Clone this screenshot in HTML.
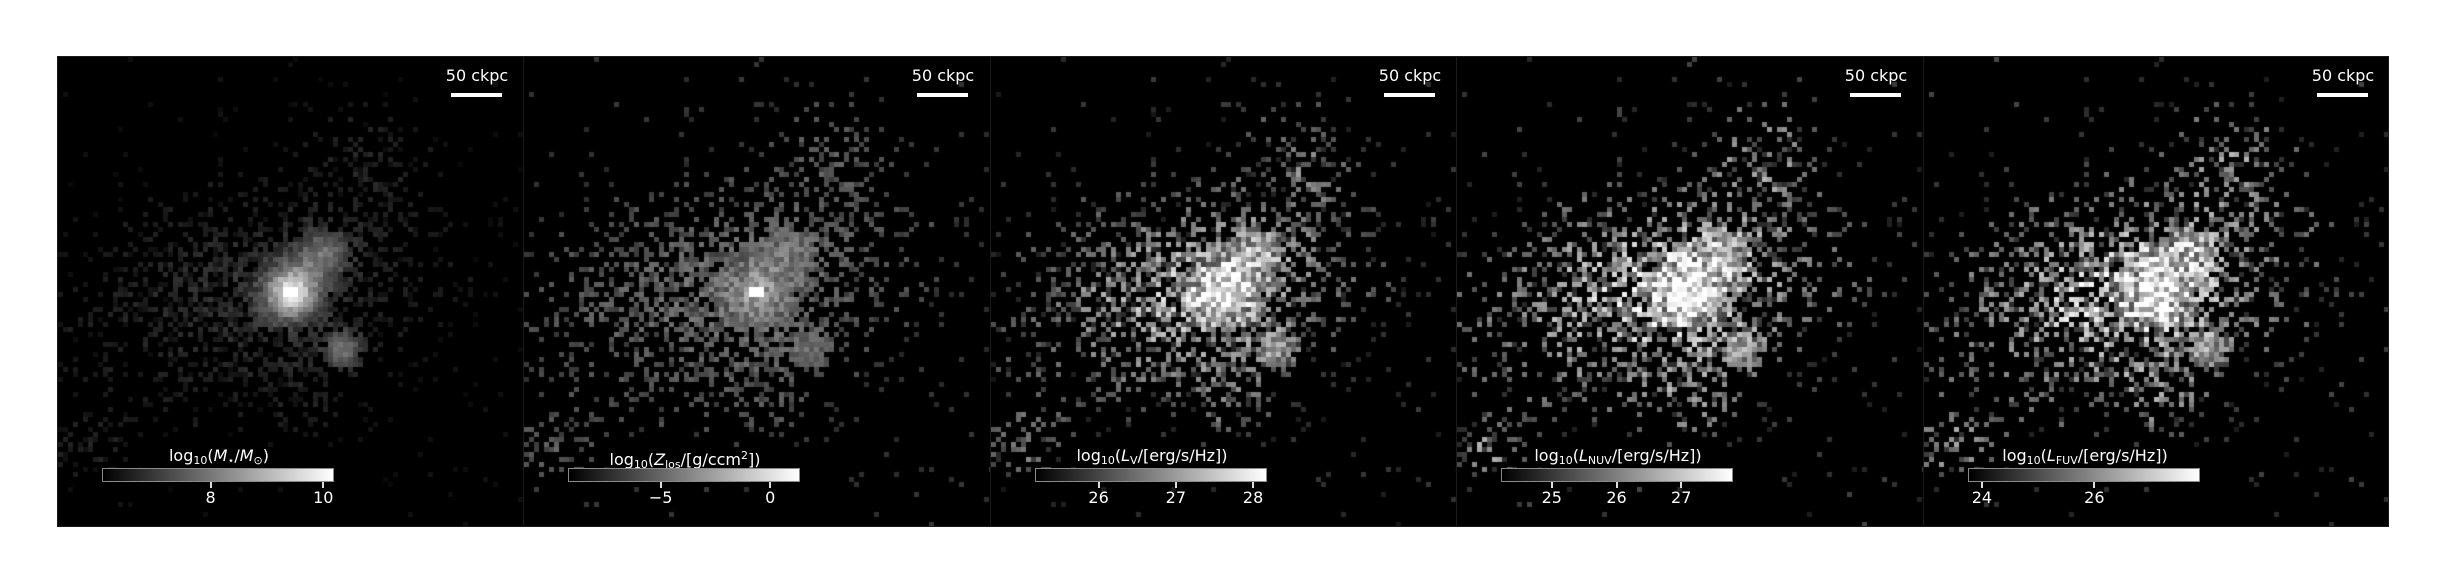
<!DOCTYPE html>
<html><head><meta charset="utf-8">
<style>
html,body{margin:0;padding:0;background:#fff;}
#fig{position:relative;width:2444px;height:584px;background:#fff;overflow:hidden;font-family:"DejaVu Sans","Liberation Sans",sans-serif;}
.panel{position:absolute;top:56px;width:468px;height:471px;background:#000;box-sizing:border-box;border:1px solid #1a1a1a;overflow:hidden;}
.panel canvas{position:absolute;left:0;top:0;}
.sb-text{position:absolute;top:10px;left:385px;width:68px;text-align:center;color:#fff;font-size:16px;line-height:18px;white-space:nowrap;}
.sb-bar{position:absolute;top:36px;left:393px;width:51px;height:4px;background:#fff;}
.cb{position:absolute;top:411px;left:44px;width:232px;height:14px;box-sizing:border-box;border:1px solid #8a8a8a;background:linear-gradient(to right,#000,#fff);}
.cb-title{position:absolute;top:390px;left:0;width:322px;text-align:center;color:#fff;font-size:16px;line-height:18px;white-space:nowrap;}
.cb-title sub{font-size:11px;vertical-align:-3px;}
.cb-title sup{font-size:11px;vertical-align:6px;}
.tick{position:absolute;top:425px;width:2px;height:6px;background:#ddd;}
.tlabel{position:absolute;top:432px;width:60px;text-align:center;color:#fff;font-size:16px;line-height:18px;}
</style></head>
<body>
<div id="fig"></div>
<script>
const panelLefts = [57, 523, 990, 1456, 1923];
const panelTitles = [
 'log<sub>10</sub>(<i>M</i><sub>⋆</sub>/<i>M</i><sub>⊙</sub>)',
 'log<sub>10</sub>(<i>Z</i><sub>los</sub>/[g/ccm<sup>2</sup>])',
 'log<sub>10</sub>(<i>L</i><sub>V</sub>/[erg/s/Hz])',
 'log<sub>10</sub>(<i>L</i><sub>NUV</sub>/[erg/s/Hz])',
 'log<sub>10</sub>(<i>L</i><sub>FUV</sub>/[erg/s/Hz])'
];
const panelNames = ['stellar-mass','metal-column','v-band-luminosity','nuv-luminosity','fuv-luminosity'];
const vmins = [6.09, -9.18, 25.19, 24.23, 23.77];
const vmaxs = [10.19, 1.36, 28.18, 27.8, 27.88];
const tickValues = [[8,10],[-5,0],[26,27,28],[25,26,27],[24,26]];
const tickLabels = [['8','10'],['−5','0'],['26','27','28'],['25','26','27'],['24','26']];

function hash(i,j,k){
  let h = (i*374761393 + j*668265263 + k*2147483647) | 0;
  h = (h ^ (h >>> 13)) * 1274126177 | 0;
  h = h ^ (h >>> 16);
  return ((h >>> 0) % 100000) / 100000;
}
function g(u,v,cx,cy,s){const d=(u-cx)*(u-cx)+(v-cy)*(v-cy);return Math.exp(-d/(2*s*s));}
function envelope(u,v){
  const du=u-0.43, dv=v-0.5, c=Math.cos(-0.22), s=Math.sin(-0.22);
  const a=du*c+dv*s, b=-du*s+dv*c;
  let e=Math.exp(-(a*a/(2*0.21*0.21)+b*b/(2*0.12*0.12)));
  e+=0.5*g(u,v,0.07,0.83,0.05);
  e+=0.45*g(u,v,0.66,0.22,0.07);
  e+=0.35*g(u,v,0.5,0.72,0.06);
  return Math.min(1,e);
}
function core(u,v){
  return Math.min(1.2, g(u,v,0.5,0.5,0.04)+0.5*g(u,v,0.61,0.62,0.03)+0.45*g(u,v,0.57,0.42,0.04));
}
const fig=document.getElementById('fig');
const cell=5;
for(let p=0;p<5;p++){
  const panel=document.createElement('div');
  panel.className='panel';
  panel.style.left=panelLefts[p]+'px';
  if(p===4) panel.style.width='466px';
  
  
  fig.appendChild(panel);
  const cv=document.createElement('canvas');
  cv.width=468;cv.height=471;
  
  
  panel.appendChild(cv);
  const ctx=cv.getContext('2d');
  ctx.fillStyle='#000';ctx.fillRect(0,0,468,471);
  for(let j=0;j<95;j++)for(let i=0;i<94;i++){
    const u=(i+0.5)*cell/466, v=(j+0.5)*cell/471;
    const E=envelope(u,v), C=core(u,v);
    const occ=Math.min(1,0.75*E+2.2*C)+0.012;
    const r1=hash(i,j,1), r2=hash(i,j,7+p);
    if(r1>occ) continue;
    let t;
    if(p===0) t=0.05+0.14*r2*(0.4+E)+0.75*Math.pow(Math.min(1,C),1.1);
    else if(p===1) t=0.22+0.2*r2*(0.5+E)+0.25*Math.min(1,C);
    else if(p===2) t=0.12+0.6*r2*(0.35+E)+0.55*Math.min(1,C);
    else t=0.15+0.7*r2*(0.35+E)+0.45*Math.min(1,C);
    if(E<0.08 && C<0.05) t*=0.7;
    if((p===0||p===1)&&Math.abs(u-0.5)<0.012&&Math.abs(v-0.5)<0.012) t=1;
    t=Math.max(0,Math.min(1,t));
    const gv=Math.round(255*t);
    ctx.fillStyle='rgb('+gv+','+gv+','+gv+')';
    ctx.fillRect(i*cell,j*cell,cell,cell);
  }
  const sbt=document.createElement('div');
  sbt.className='sb-text';sbt.textContent='50 ckpc';
  
  
  panel.appendChild(sbt);
  const sbb=document.createElement('div');
  sbb.className='sb-bar';
  
  
  panel.appendChild(sbb);
  const ttl=document.createElement('div');
  ttl.className='cb-title';ttl.innerHTML=panelTitles[p];
  
  
  panel.appendChild(ttl);
  const cb=document.createElement('div');
  cb.className='cb';
  
  
  panel.appendChild(cb);
  const x0=45, w=231;
  tickValues[p].forEach((tv,k)=>{
    const x=x0+(tv-vmins[p])/(vmaxs[p]-vmins[p])*w;
    const tk=document.createElement('div');
    tk.className='tick';tk.style.left=(x-1)+'px';
    
    
    panel.appendChild(tk);
    const tl=document.createElement('div');
    tl.className='tlabel';tl.style.left=(x-30)+'px';tl.textContent=tickLabels[p][k];
    
    
    panel.appendChild(tl);
  });
}
</script>
</body></html>
